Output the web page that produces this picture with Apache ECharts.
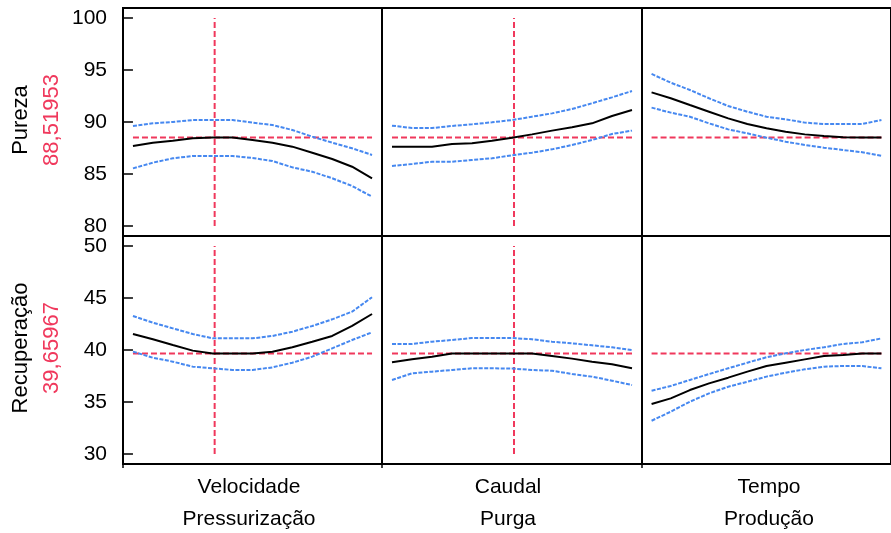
<!DOCTYPE html>
<html>
<head>
<meta charset="utf-8">
<script src="https://cdn.jsdelivr.net/npm/echarts@6/dist/echarts.min.js"></script>
<style>
html, body { margin: 0; padding: 0; background: #fff; }
#chart { width: 891px; height: 533px; }
</style>
</head>
<body>
<div id="chart"></div>
<script>
// pontos ao longo de cada fator (13 amostras)
var xs = [0, 1, 2, 3, 4, 5, 6, 7, 8, 9, 10, 11, 12];
var factorNames = ['Velocidade\nPressurização', 'Caudal\nPurga', 'Tempo\nProdução'];
var responseNames = ['Pureza', 'Recuperação'];
var responseValues = ['88,51953', '39,65967'];
var currentY = [88.51953, 39.65967];
var currentX = [4.1, 6.1, 12];
var ticksPureza = [80, 85, 90, 95, 100];
var ticksRecup = [30, 35, 40, 45, 50];

// Pureza
var purVelPred = [87.69, 88.01, 88.2, 88.43, 88.5, 88.5, 88.27, 88.0, 87.63, 87.05, 86.44, 85.7, 84.59];
var purVelHi   = [89.62, 89.87, 90.0, 90.19, 90.19, 90.19, 89.94, 89.71, 89.23, 88.59, 88.01, 87.47, 86.83];
var purVelLo   = [85.54, 86.09, 86.51, 86.73, 86.73, 86.73, 86.54, 86.25, 85.64, 85.22, 84.59, 83.85, 82.82];
var purCauPred = [87.63, 87.63, 87.63, 87.88, 87.95, 88.2, 88.49, 88.81, 89.17, 89.49, 89.87, 90.58, 91.15];
var purCauHi   = [89.65, 89.42, 89.42, 89.62, 89.78, 89.97, 90.19, 90.51, 90.83, 91.25, 91.8, 92.37, 92.98];
var purCauLo   = [85.77, 85.96, 86.18, 86.18, 86.35, 86.51, 86.8, 87.05, 87.37, 87.79, 88.27, 88.85, 89.17];
var purTemPred = [92.85, 92.28, 91.63, 90.99, 90.35, 89.81, 89.39, 89.07, 88.81, 88.65, 88.53, 88.52, 88.52];
var purTemHi   = [94.62, 93.78, 93.08, 92.28, 91.54, 90.99, 90.51, 90.26, 89.94, 89.81, 89.81, 89.81, 90.19];
var purTemLo   = [91.38, 90.9, 90.51, 89.87, 89.29, 88.91, 88.49, 88.11, 87.79, 87.53, 87.31, 87.09, 86.76];

// Recuperação
var recVelPred = [41.54, 41.03, 40.48, 39.94, 39.66, 39.66, 39.66, 39.84, 40.26, 40.8, 41.35, 42.31, 43.46];
var recVelHi   = [43.27, 42.63, 42.08, 41.54, 41.12, 41.12, 41.12, 41.35, 41.76, 42.31, 42.95, 43.69, 45.07];
var recVelLo   = [39.84, 39.26, 38.88, 38.4, 38.24, 38.08, 38.08, 38.33, 38.78, 39.36, 40.16, 40.96, 41.7];
var recCauPred = [38.82, 39.1, 39.36, 39.66, 39.66, 39.66, 39.66, 39.66, 39.42, 39.17, 38.88, 38.62, 38.24];
var recCauHi   = [40.58, 40.58, 40.8, 40.96, 41.15, 41.15, 41.15, 41.03, 40.8, 40.64, 40.45, 40.26, 40.0];
var recCauLo   = [37.12, 37.76, 37.92, 38.08, 38.24, 38.24, 38.22, 38.08, 38.01, 37.69, 37.44, 37.05, 36.63];
var recTemPred = [34.81, 35.35, 36.15, 36.79, 37.34, 37.92, 38.46, 38.78, 39.1, 39.42, 39.52, 39.66, 39.66];
var recTemHi   = [36.09, 36.54, 37.12, 37.69, 38.24, 38.78, 39.3, 39.68, 40.0, 40.26, 40.58, 40.74, 41.12];
var recTemLo   = [33.2, 34.07, 35.03, 35.83, 36.47, 36.95, 37.44, 37.82, 38.14, 38.4, 38.46, 38.46, 38.24];

var panels = [
	[[purVelPred, purVelHi, purVelLo], [purCauPred, purCauHi, purCauLo], [purTemPred, purTemHi, purTemLo]],
	[[recVelPred, recVelHi, recVelLo], [recCauPred, recCauHi, recCauLo], [recTemPred, recTemHi, recTemLo]]
];

var FONT = '"Liberation Sans", Arial, sans-serif';
var RED = '#f0385c';
var BLUE = '#4688f0';

var colLeft = [123, 382, 642];
var colWidth = [259, 260, 260];
var rowTop = [8, 236];
var rowHeight = 228;
var yRange = [[79.04, 100.96], [29.04, 50.96]];
var yTicks = [ticksPureza, ticksRecup];

function zip(vals){
	var out = [];
	for(var i = 0; i < xs.length; i++){
		out.push([xs[i], vals[i]]);
	}
	return out;
}

var grids = [], xAxes = [], yAxes = [], series = [];

for(var r = 0; r < 2; r++){
	for(var c = 0; c < 3; c++){
		var idx = r * 3 + c;
		grids.push({
			left: colLeft[c], top: rowTop[r], width: colWidth[c], height: rowHeight,
			show: true, borderColor: '#000', borderWidth: 2, backgroundColor: 'transparent'
		});
		xAxes.push({
			type: 'value', gridIndex: idx, min: -0.5, max: 12.5,
			axisLine: {show: false}, axisTick: {show: false}, axisLabel: {show: false}, splitLine: {show: false}
		});
		var first = c == 0;
		yAxes.push({
			type: 'value', gridIndex: idx, min: yRange[r][0], max: yRange[r][1],
			axisLine: {show: false},
			axisTick: {show: first, length: 11, inside: false, customValues: yTicks[r], lineStyle: {color: '#000', width: 1.5}},
			axisLabel: {show: first, customValues: yTicks[r], margin: 16, color: '#000', fontSize: 21, fontFamily: FONT},
			splitLine: {show: false}
		});

		var set = panels[r][c];
		// linhas de referência vermelhas
		series.push({
			type: 'line', xAxisIndex: idx, yAxisIndex: idx, symbol: 'none', silent: true,
			data: [[0, currentY[r]], [12, currentY[r]]],
			lineStyle: {color: RED, width: 2, type: [6, 3]}
		});
		if(c < 2){
			series.push({
				type: 'line', xAxisIndex: idx, yAxisIndex: idx, symbol: 'none', silent: true,
				data: [[currentX[c], yTicks[r][0]], [currentX[c], yTicks[r][4]]],
				lineStyle: {color: RED, width: 2, type: [6, 3]}
			});
		}
		// intervalos de confiança
		series.push({
			type: 'line', xAxisIndex: idx, yAxisIndex: idx, symbol: 'none', silent: true,
			data: zip(set[1]), lineStyle: {color: BLUE, width: 2, type: [4, 1.5]}
		});
		series.push({
			type: 'line', xAxisIndex: idx, yAxisIndex: idx, symbol: 'none', silent: true,
			data: zip(set[2]), lineStyle: {color: BLUE, width: 2, type: [4, 1.5]}
		});
		// previsão
		series.push({
			type: 'line', xAxisIndex: idx, yAxisIndex: idx, symbol: 'none', silent: true,
			data: zip(set[0]), lineStyle: {color: '#000', width: 2}
		});
	}
}

var graphics = [];
var rowCenter = [120, 348];
for(var r = 0; r < 2; r++){
	graphics.push({
		type: 'text', x: 21, y: rowCenter[r], rotation: Math.PI / 2,
		style: {text: responseNames[r], fill: '#000', font: '22px ' + FONT, textAlign: 'center', textVerticalAlign: 'middle'}
	});
	graphics.push({
		type: 'text', x: 52, y: rowCenter[r], rotation: Math.PI / 2,
		style: {text: responseValues[r], fill: RED, font: '22px ' + FONT, textAlign: 'center', textVerticalAlign: 'middle'}
	});
}
var labelCenters = [249, 508, 769];
for(var c = 0; c < 3; c++){
	var parts = factorNames[c].split('\n');
	graphics.push({
		type: 'text', x: labelCenters[c], y: 487,
		style: {text: parts[0], fill: '#000', font: '21px ' + FONT, textAlign: 'center', textVerticalAlign: 'middle'}
	});
	graphics.push({
		type: 'text', x: labelCenters[c], y: 519,
		style: {text: parts[1], fill: '#000', font: '21px ' + FONT, textAlign: 'center', textVerticalAlign: 'middle'}
	});
	graphics.push({
		type: 'line', shape: {x1: colLeft[c], y1: 464, x2: colLeft[c], y2: 468},
		style: {stroke: '#000', lineWidth: 1.5}
	});
}

var chart = echarts.init(document.getElementById('chart'));
chart.setOption({
	animation: false,
	backgroundColor: '#fff',
	grid: grids,
	xAxis: xAxes,
	yAxis: yAxes,
	series: series,
	graphic: graphics
});
</script>
</body>
</html>
